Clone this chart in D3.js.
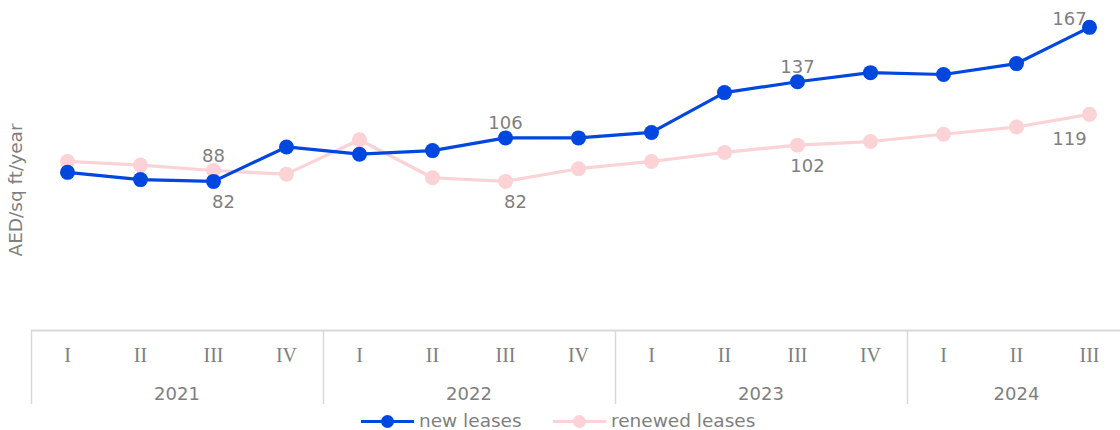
<!DOCTYPE html>
<html>
<head>
<meta charset="utf-8">
<script src="https://cdn.jsdelivr.net/npm/d3@7"></script>
<style>
  body { margin: 0; background: #fff; }
  svg { display: block; }
</style>
</head>
<body>
<div id="chart"></div>
<script>
// Data
var years = ["2021", "2022", "2023", "2024"];
var quarters = ["I", "II", "III", "IV"];
var periods = [
  "2021-I", "2021-II", "2021-III", "2021-IV",
  "2022-I", "2022-II", "2022-III", "2022-IV",
  "2023-I", "2023-II", "2023-III", "2023-IV",
  "2024-I", "2024-II", "2024-III"
];
var newLeases = [87, 83, 82, 101, 97, 99, 106, 106, 109, 131, 137, 142, 141, 147, 167];
var renewedLeases = [93, 91, 88, 86, 105, 84, 82, 89, 93, 98, 102, 104, 108, 112, 119];
var labelledIdx = [2, 6, 10, 14];

var w = 1120;
var h = 430;
var blue = "#0047e0";
var pink = "#fbd3d7";
var grey = "#7f7f7f";
var lineGrey = "#d9d9d9";
var sans = "Verdana, 'DejaVu Sans', sans-serif";

var svg = d3.select("#chart")
  .append("svg")
  .attr("width", w)
  .attr("height", h);

var xScale = d3.scaleBand()
  .domain(periods)
  .range([31, 1126]);

var yScale = d3.scaleLinear()
  .domain([0, 180])
  .range([330, 3.8]);

function cx(p) { return xScale(p) + xScale.bandwidth() / 2; }

// Category axis (two levels)
var axisG = svg.append("g").attr("class", "x-axis");
axisG.append("line")
  .attr("x1", 31).attr("x2", w)
  .attr("y1", 330.5).attr("y2", 330.5)
  .attr("stroke", lineGrey).attr("stroke-width", 2);

years.forEach(function (y) {
  var yearPeriods = periods.filter(function (p) { return p.indexOf(y) === 0; });
  var first = xScale(yearPeriods[0]);
  axisG.append("line")
    .attr("x1", first + 0.5).attr("x2", first + 0.5)
    .attr("y1", 330).attr("y2", 404)
    .attr("stroke", lineGrey).attr("stroke-width", 1.5);
  var mid = first + yearPeriods.length * xScale.bandwidth() / 2;
  axisG.append("text")
    .attr("x", mid)
    .attr("y", 400)
    .attr("text-anchor", "middle")
    .attr("fill", grey)
    .style("font-family", sans)
    .style("font-size", "18px")
    .text(y);
});

axisG.selectAll(".q-label")
  .data(periods)
  .enter()
  .append("text")
  .attr("class", "q-label")
  .attr("x", function (d) { return cx(d); })
  .attr("y", 362)
  .attr("text-anchor", "middle")
  .attr("fill", grey)
  .style("font-family", "'Liberation Serif', 'DejaVu Serif', serif")
  .style("font-size", "20px")
  .text(function (d) { return d.split("-")[1]; });

// Y-axis title
svg.append("text")
  .attr("transform", "translate(22,190) rotate(-90)")
  .attr("text-anchor", "middle")
  .attr("fill", grey)
  .style("font-family", sans)
  .style("font-size", "18.5px")
  .text("AED/sq ft/year");

// Lines
var line = d3.line()
  .x(function (d, i) { return cx(periods[i]); })
  .y(function (d) { return yScale(d); });

var series = [
  { name: "renewed leases", values: renewedLeases, color: pink },
  { name: "new leases", values: newLeases, color: blue }
];

series.forEach(function (s) {
  svg.append("path")
    .datum(s.values)
    .attr("d", line)
    .attr("fill", "none")
    .attr("stroke", s.color)
    .attr("stroke-width", 3.2)
    .attr("stroke-linejoin", "round");
  svg.selectAll(null)
    .data(s.values)
    .enter()
    .append("circle")
    .attr("cx", function (d, i) { return cx(periods[i]); })
    .attr("cy", function (d) { return yScale(d); })
    .attr("r", 7.5)
    .attr("fill", s.color);
});

// Data labels
labelledIdx.forEach(function (i) {
  var last = i === periods.length - 1;
  [newLeases, renewedLeases].forEach(function (vals, k) {
    var other = k === 0 ? renewedLeases : newLeases;
    var above = vals[i] >= other[i];
    var dx = last ? -20 : (above ? 0 : 10);
    var dy = above ? (last ? -2 : -9) : (last ? 31 : 27);
    svg.append("text")
      .attr("x", cx(periods[i]) + dx)
      .attr("y", yScale(vals[i]) + dy)
      .attr("text-anchor", "middle")
      .attr("fill", grey)
      .style("font-family", sans)
      .style("font-size", "18px")
      .text(vals[i]);
  });
});

// Legend
var legend = svg.append("g").attr("class", "legend");
var legendItems = [
  { name: "new leases", color: blue, x: 361 },
  { name: "renewed leases", color: pink, x: 553 }
];
legendItems.forEach(function (d) {
  legend.append("line")
    .attr("x1", d.x).attr("x2", d.x + 53)
    .attr("y1", 421.5).attr("y2", 421.5)
    .attr("stroke", d.color).attr("stroke-width", 3.2);
  legend.append("circle")
    .attr("cx", d.x + 26.5).attr("cy", 421.5).attr("r", 6.5)
    .attr("fill", d.color);
  legend.append("text")
    .attr("x", d.x + 58)
    .attr("y", 427)
    .attr("fill", grey)
    .style("font-family", sans)
    .style("font-size", "18.5px")
    .text(d.name);
});
</script>
</body>
</html>
